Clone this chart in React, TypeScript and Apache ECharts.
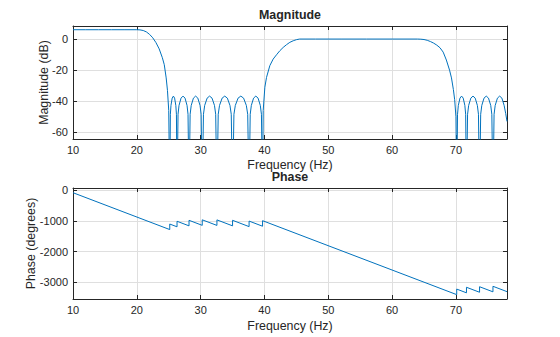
import React, { useEffect, useRef } from 'react';
import * as echarts from 'echarts';

// Tick labels
const xTickLabels = [10, 20, 30, 40, 50, 60, 70];
const magTickLabels = [-60, -40, -20, 0];
const phaseTickLabels = [-3000, -2000, -1000, 0];

// Magnitude (dB) — first passband and transition
const pass1Freq = [10, 12, 14, 16, 18, 20, 20.5, 21.0, 21.5, 22.0, 22.5, 23.0, 23.5, 24.0, 24.3, 24.6, 24.8, 25.0, 25.16];
const pass1Db = [6.0, 6.0, 6.0, 6.0, 6.0, 6.0, 5.9, 5.5, 4.6, 3.0, 0.8, -2.3, -6.3, -12.0, -16.5, -25, -33, -46, -100];

// First stopband lobes
const stop1Freq = [
  25.255, 25.35, 25.54, 25.73, 25.92, 26.11, 26.205, 26.3,
  26.457, 26.613, 26.927, 27.24, 27.553, 27.867, 28.023, 28.18,
  28.353, 28.525, 28.87, 29.215, 29.56, 29.905, 30.078, 30.25,
  30.442, 30.633, 31.017, 31.4, 31.783, 32.167, 32.358, 32.55,
  32.754, 32.958, 33.367, 33.775, 34.183, 34.592, 34.796, 35.0,
  35.216, 35.432, 35.863, 36.295, 36.727, 37.158, 37.374, 37.59,
  37.766, 37.942, 38.293, 38.645, 38.997, 39.348, 39.524, 39.7,
];
const stop1Db = [
  -48.4, -42.7, -38.0, -36.7, -38.0, -42.7, -48.4, -100,
  -48.4, -42.7, -38.0, -36.7, -38.0, -42.7, -48.4, -100,
  -48.4, -42.7, -38.0, -36.7, -38.0, -42.7, -48.4, -100,
  -48.4, -42.7, -38.0, -36.7, -38.0, -42.7, -48.4, -100,
  -48.4, -42.7, -38.0, -36.7, -38.0, -42.7, -48.4, -100,
  -48.4, -42.7, -38.0, -36.7, -38.0, -42.7, -48.4, -100,
  -48.4, -42.7, -38.0, -36.7, -38.0, -42.7, -48.4, -100,
];

// Second passband with both transitions
const pass2Freq = [39.8, 40.06, 40.32, 40.84, 41.36, 41.89, 42.41, 42.93, 43.46, 43.98, 44.5, 45.0, 45.5, 48, 52, 56, 60, 64, 64.5, 65.0, 65.5, 66.0, 66.5, 67.0, 67.5, 68.0, 68.5, 69.0, 69.3, 69.6, 69.8, 70.0, 70.12];
const pass2Db = [-46, -31, -24.7, -17.1, -12.9, -10.1, -7.5, -5.4, -3.6, -2.1, -1.1, -0.4, 0, 0, 0, 0, 0, 0, -0.1, -0.3, -0.8, -1.6, -2.6, -3.9, -5.6, -8.4, -13.5, -20, -25, -32.5, -39, -50, -100];

// Second stopband lobes
const stop2Freq = [
  70.248, 70.375, 70.63, 70.885, 71.14, 71.395, 71.523, 71.65,
  71.821, 71.992, 72.333, 72.675, 73.017, 73.358, 73.529, 73.7,
  73.875, 74.05, 74.4, 74.75, 75.1, 75.45, 75.625, 75.8,
  75.975, 76.15, 76.5, 76.85, 77.2, 77.55, 77.8, 78,
];
const stop2Db = [
  -48.4, -42.7, -38.0, -36.7, -38.0, -42.7, -48.4, -100,
  -48.4, -42.7, -38.0, -36.7, -38.0, -42.7, -48.4, -100,
  -48.4, -42.7, -38.0, -36.7, -38.0, -42.7, -48.4, -100,
  -48.4, -42.7, -38.0, -36.7, -38.0, -42.7, -48, -53,
];

// Phase (degrees)
const phaseFreq = [10, 25.16, 25.16, 26.3, 26.3, 28.18, 28.18, 30.25, 30.25, 32.55, 32.55, 35.0, 35.0, 37.59, 37.59, 39.7, 39.7, 70.12, 70.12, 71.65, 71.65, 73.7, 73.7, 75.8, 75.8, 78];
const phaseDeg = [-88, -1286, -1106, -1196, -1016, -1165, -985, -1149, -969, -1151, -971, -1165, -985, -1190, -1010, -1177, -997, -3400, -3220, -3341, -3161, -3323, -3143, -3309, -3129, -3303];

const FONT = 'Liberation Sans, Arial, Helvetica, sans-serif';
const DARK = '#262626';
const GRIDC = '#dfdfdf';
const LINE = '#0072BD';

function zip(a: number[], b: number[]) {
  return a.map((v, i) => [v, b[i]]);
}

function xAxisFor(gridIndex: number, bottom: boolean) {
  return {
    type: 'value',
    gridIndex,
    min: 10,
    max: 78,
    minInterval: 10,
    maxInterval: 10,
    position: bottom ? 'bottom' : 'top',
    axisLine: { show: true, onZero: false, lineStyle: { color: DARK, width: 1 } },
    axisTick: { show: true, inside: true, length: 4, lineStyle: { color: DARK, width: 1 } },
    axisLabel: bottom
      ? {
          show: true,
          margin: 5,
          color: DARK,
          fontSize: 11,
          fontFamily: FONT,
          showMinLabel: true,
          showMaxLabel: false,
          formatter: (v: number) => (xTickLabels.includes(v) ? String(v) : ''),
        }
      : { show: false },
    splitLine: { show: bottom, lineStyle: { color: GRIDC, width: 1 } },
  };
}

function yAxisFor(gridIndex: number, left: boolean, min: number, max: number, interval: number, ticks: number[]) {
  return {
    type: 'value',
    gridIndex,
    min,
    max,
    minInterval: interval,
    maxInterval: interval,
    position: left ? 'left' : 'right',
    axisLine: { show: true, onZero: false, lineStyle: { color: DARK, width: 1 } },
    axisTick: { show: true, inside: true, length: 4, lineStyle: { color: DARK, width: 1 } },
    axisLabel: left
      ? {
          show: true,
          margin: 5,
          color: DARK,
          fontSize: 11,
          fontFamily: FONT,
          showMinLabel: false,
          showMaxLabel: false,
          formatter: (v: number) => (ticks.includes(v) ? String(v) : ''),
        }
      : { show: false },
    splitLine: { show: left, lineStyle: { color: GRIDC, width: 1 } },
  };
}

function label(text: string, x: number, y: number, bold: boolean, rotate = false) {
  return {
    type: 'text',
    x,
    y,
    rotation: rotate ? Math.PI / 2 : 0,
    silent: true,
    style: {
      text,
      fill: DARK,
      font: `${bold ? 'bold ' : ''}12.4px ${FONT}`,
      align: 'center',
      verticalAlign: 'middle',
      textAlign: 'center',
      textVerticalAlign: 'middle',
    },
  };
}

export default function App() {
  const ref = useRef<HTMLDivElement>(null);
  useEffect(() => {
    if (!ref.current) return;
    const chart = echarts.init(ref.current, null, { renderer: 'svg' });
    const magData = zip(
      [...pass1Freq, ...stop1Freq, ...pass2Freq, ...stop2Freq],
      [...pass1Db, ...stop1Db, ...pass2Db, ...stop2Db]
    );
    const phaseData = zip(phaseFreq, phaseDeg);
    const option: any = {
      animation: false,
      backgroundColor: '#ffffff',
      grid: [
        { left: 73, right: 53, top: 26, height: 113, containLabel: false, outerBoundsMode: 'none' },
        { left: 73, right: 53, top: 188, height: 111, containLabel: false, outerBoundsMode: 'none' },
      ],
      xAxis: [xAxisFor(0, true), xAxisFor(0, false), xAxisFor(1, true), xAxisFor(1, false)],
      yAxis: [
        yAxisFor(0, true, -64.3, 8.4, 20, magTickLabels),
        yAxisFor(0, false, -64.3, 8.4, 20, magTickLabels),
        yAxisFor(1, true, -3542, 65, 1000, phaseTickLabels),
        yAxisFor(1, false, -3542, 65, 1000, phaseTickLabels),
      ],
      series: [
        {
          type: 'line',
          xAxisIndex: 0,
          yAxisIndex: 0,
          data: magData,
          showSymbol: false,
          symbol: 'none',
          clip: true,
          silent: true,
          lineStyle: { color: LINE, width: 1 },
          itemStyle: { color: LINE },
        },
        {
          type: 'line',
          xAxisIndex: 2,
          yAxisIndex: 2,
          data: phaseData,
          showSymbol: false,
          symbol: 'none',
          clip: true,
          silent: true,
          lineStyle: { color: LINE, width: 1 },
          itemStyle: { color: LINE },
        },
      ],
      graphic: [
        label('Magnitude', 290, 15, true),
        label('Frequency (Hz)', 290, 164.5, false),
        label('Magnitude (dB)', 44, 82.5, false, true),
        label('Phase', 290, 177, true),
        label('Frequency (Hz)', 290, 325.5, false),
        label('Phase (degrees)', 30.5, 243.5, false, true),
      ],
    };
    chart.setOption(option);
    return () => chart.dispose();
  }, []);
  return (
    <div
      ref={ref}
      style={{ position: 'fixed', left: 0, top: 0, width: 560, height: 337, background: '#fff' }}
    />
  );
}
